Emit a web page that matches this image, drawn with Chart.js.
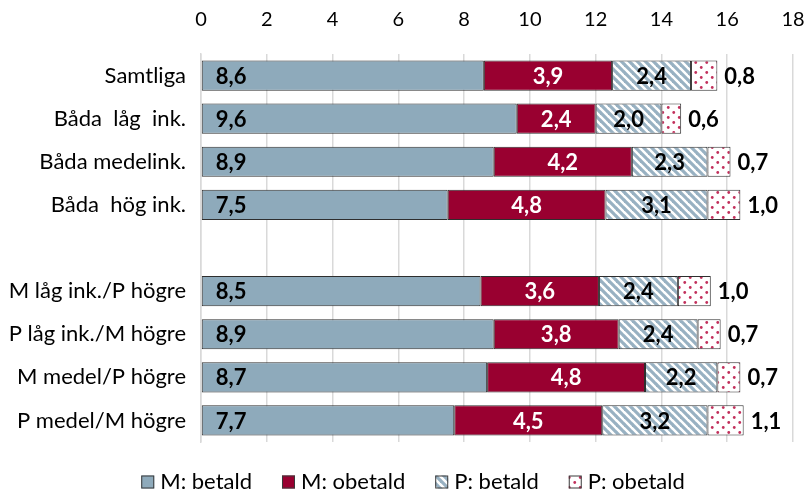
<!DOCTYPE html>
<html>
<head>
<meta charset="utf-8">
<script src="https://cdn.jsdelivr.net/npm/chart.js@4.4.0/dist/chart.umd.min.js"></script>
<style>
  html, body { margin: 0; padding: 0; background: #fff; }
  #wrap { width: 810px; height: 492px; }
</style>
</head>
<body>
<div id="wrap"><canvas id="chart"></canvas></div>
<script>
const categories = [
    "Samtliga", "Båda  låg  ink.", "Båda medelink.", "Båda  hög ink.", "",
    "M låg ink./P högre", "P låg ink./M högre", "M medel/P högre", "P medel/M högre"
];
const mBetald  = [8.6, 9.6, 8.9, 7.5, null, 8.5, 8.9, 8.7, 7.7];
const mObetald = [3.9, 2.4, 4.2, 4.8, null, 3.6, 3.8, 4.8, 4.5];
const pBetald  = [2.4, 2.0, 2.3, 3.1, null, 2.4, 2.4, 2.2, 3.2];
const pObetald = [0.8, 0.6, 0.7, 1.0, null, 1.0, 0.7, 0.7, 1.1];
const seriesNames = ["M: betald", "M: obetald", "P: betald", "P: obetald"];
const xTicks = [0, 2, 4, 6, 8, 10, 12, 14, 16, 18];

const FONT = "Lato, 'Open Sans', sans-serif";

function stripePattern() {
    const s = 8;
    const c = document.createElement('canvas');
    c.width = s; c.height = s;
    const g = c.getContext('2d');
    g.fillStyle = '#ffffff';
    g.fillRect(0, 0, s, s);
    g.strokeStyle = '#98b1c2';
    g.lineWidth = 3.2;
    for (let k = -1; k <= 1; k++) {
        g.beginPath();
        g.moveTo(k * s - 1, -1);
        g.lineTo(k * s + s + 1, s + 1);
        g.stroke();
    }
    return g.createPattern(c, 'repeat');
}

function dotPattern() {
    const w = 11, h = 10;
    const c = document.createElement('canvas');
    c.width = w; c.height = h;
    const g = c.getContext('2d');
    g.fillStyle = '#ffffff';
    g.fillRect(0, 0, w, h);
    g.fillStyle = '#c2305c';
    [[2.75, 2.5], [8.25, 7.5]].forEach(p => {
        g.beginPath();
        g.arc(p[0], p[1], 1.4, 0, Math.PI * 2);
        g.fill();
    });
    return g.createPattern(c, 'repeat');
}

// value labels, placed like the excel original
const valueLabels = {
    id: 'valueLabels',
    afterDatasetsDraw(chart) {
        const ctx = chart.ctx;
        ctx.save();
        ctx.font = "bold 22px " + FONT;
        ctx.textBaseline = 'middle';
        chart.data.datasets.forEach((ds, di) => {
            const meta = chart.getDatasetMeta(di);
            meta.data.forEach((bar, i) => {
                const v = ds.data[i];
                if (v == null) return;
                const txt = v.toFixed(1).replace('.', ',');
                const left = Math.min(bar.x, bar.base);
                const right = Math.max(bar.x, bar.base);
                if (di === 0) {
                    ctx.fillStyle = '#000';
                    ctx.textAlign = 'left';
                    ctx.fillText(txt, left + 14, bar.y + 1);
                } else if (di === 3) {
                    ctx.fillStyle = '#000';
                    ctx.textAlign = 'left';
                    ctx.fillText(txt, right + 7, bar.y + 1);
                } else {
                    ctx.fillStyle = di === 1 ? '#fff' : '#000';
                    ctx.textAlign = 'center';
                    ctx.fillText(txt, (left + right) / 2, bar.y + 1);
                }
            });
        });
        ctx.restore();
    }
};

// legend drawn by hand so the spacing can match
const bottomLegend = {
    id: 'bottomLegend',
    afterDraw(chart) {
        const ctx = chart.ctx;
        ctx.save();
        ctx.font = "22px " + FONT;
        ctx.textBaseline = 'middle';
        ctx.textAlign = 'left';
        const box = 13, boxGap = 6, itemGap = 30;
        const items = chart.data.datasets.map(ds => ({
            text: ds.label, fill: ds.backgroundColor, w: ctx.measureText(ds.label).width
        }));
        let total = 0;
        items.forEach((it, i) => { total += box + boxGap + it.w + (i ? itemGap : 0); });
        let x = chart.width / 2 - total / 2 + 8;
        const y = 482;
        items.forEach(it => {
            ctx.fillStyle = it.fill;
            ctx.fillRect(x, y - box / 2, box, box);
            ctx.strokeStyle = '#3a3a3a';
            ctx.lineWidth = 1;
            ctx.strokeRect(x + 0.5, y - box / 2 + 0.5, box - 1, box - 1);
            ctx.fillStyle = '#000';
            ctx.fillText(it.text, x + box + boxGap, y);
            x += box + boxGap + it.w + itemGap;
        });
        ctx.restore();
    }
};

const colors = ['#8eaabb', '#990030', stripePattern(), dotPattern()];
const allData = [mBetald, mObetald, pBetald, pObetald];

new Chart(document.getElementById('chart'), {
    type: 'bar',
    data: {
        labels: categories,
        datasets: allData.map((d, i) => ({
            label: seriesNames[i],
            data: d,
            backgroundColor: colors[i],
            borderColor: '#2e2e2e',
            borderWidth: 1,
            borderSkipped: false,
            barPercentage: 0.7,
            categoryPercentage: 1.0
        }))
    },
    options: {
        indexAxis: 'y',
        responsive: true,
        maintainAspectRatio: false,
        animation: false,
        layout: { padding: { left: 0, right: 17, top: 8, bottom: 50 } },
        scales: {
            x: {
                position: 'top',
                stacked: true,
                min: 0,
                max: 18,
                afterBuildTicks: (scale) => { scale.ticks = xTicks.map(v => ({ value: v })); },
                ticks: { font: { family: FONT, size: 20 }, color: '#000', padding: 22 },
                grid: { color: '#d9d9d9', lineWidth: 1.5, drawTicks: false },
                border: { display: false },
                afterFit: (scale) => {
                    scale.height = 46;
                    scale.paddingLeft = 0;
                    scale.paddingRight = 0;
                }
            },
            y: {
                stacked: true,
                ticks: { font: { family: FONT, size: 22 }, color: '#000', padding: 15 },
                grid: { display: false, drawTicks: false },
                border: { color: '#d9d9d9', width: 1.5 },
                afterFit: (scale) => { scale.width = 201; }
            }
        },
        plugins: {
            legend: { display: false },
            tooltip: { enabled: false }
        }
    },
    plugins: [valueLabels, bottomLegend]
});
</script>
</body>
</html>
